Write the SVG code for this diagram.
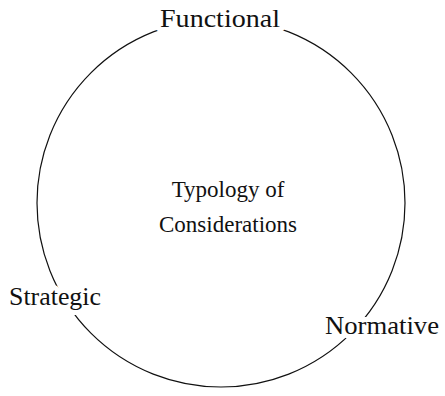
<svg xmlns="http://www.w3.org/2000/svg" width="445" height="396" viewBox="0 0 445 396">
  <style>
    .lbl { font-family: "Liberation Serif", "Times New Roman", serif; font-size: 26px; fill: #111; text-anchor: middle; }
    .mid { font-size: 23px; }
    .halo { stroke: #fff; stroke-width: 10; stroke-linejoin: round; paint-order: stroke; }
    .ring { fill: none; stroke: #111; stroke-width: 1.2; }
  </style>
  <rect width="445" height="396" fill="#fff"/>
  <g id="connectors">
    <circle class="ring" cx="221" cy="203" r="184"/>
  </g>
  <g id="center">
    <text class="lbl mid" x="228" y="197">Typology of</text>
    <text class="lbl mid" x="228" y="232">Considerations</text>
  </g>
  <g id="functional">
    <text class="lbl halo" x="220" y="27" textLength="120" lengthAdjust="spacingAndGlyphs">Functional</text>
  </g>
  <g id="strategic">
    <text class="lbl halo" x="55" y="305" textLength="92" lengthAdjust="spacingAndGlyphs">Strategic</text>
  </g>
  <g id="normative">
    <text class="lbl halo" x="382" y="334" textLength="114" lengthAdjust="spacingAndGlyphs">Normative</text>
  </g>
</svg>
